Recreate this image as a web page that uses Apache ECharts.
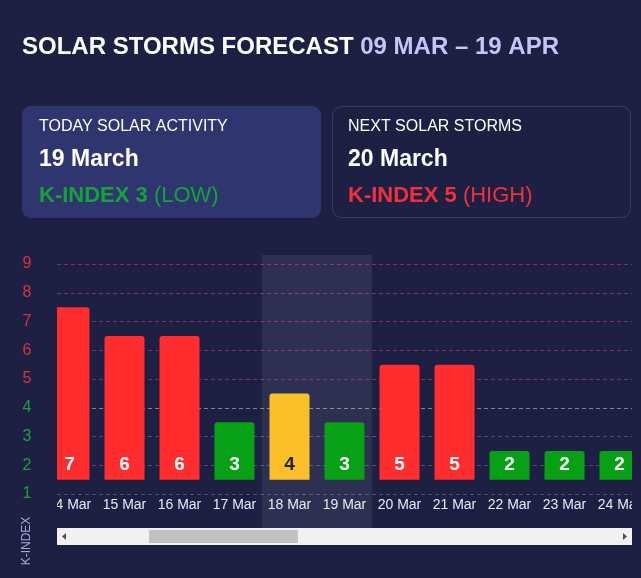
<!DOCTYPE html>
<html>
<head>
<meta charset="utf-8">
<script src="https://cdn.jsdelivr.net/npm/echarts@6/dist/echarts.min.js"></script>
<style>
  html, body { margin: 0; padding: 0; background: #1d2043; overflow: hidden; }
  #wrap { position: relative; width: 641px; height: 578px; }
  #chart { position: absolute; left: 0; top: 0; width: 641px; height: 578px; }
  #scroller { position: absolute; overflow: hidden; }
  #content { position: absolute; left: 0; top: 0; }
</style>
</head>
<body>
<div id="wrap">
  <div id="chart"></div>
  <div id="scroller"><div id="content"></div></div>
</div>
<script>
// ---- data ----
const days = ['09 Mar','10 Mar','11 Mar','12 Mar','13 Mar','14 Mar','15 Mar','16 Mar','17 Mar','18 Mar','19 Mar','20 Mar','21 Mar','22 Mar','23 Mar','24 Mar','25 Mar','26 Mar','27 Mar','28 Mar','29 Mar','30 Mar','31 Mar','01 Apr','02 Apr','03 Apr','04 Apr','05 Apr','06 Apr','07 Apr','08 Apr','09 Apr','10 Apr','11 Apr','12 Apr','13 Apr','14 Apr','15 Apr'];
const dayLabels = ['9 Mar','10 Mar','11 Mar','12 Mar','13 Mar','14 Mar','15 Mar','16 Mar','17 Mar','18 Mar','19 Mar','20 Mar','21 Mar','22 Mar','23 Mar','24 Mar','25 Mar','26 Mar','27 Mar','28 Mar','29 Mar','30 Mar','31 Mar','1 Apr','2 Apr','3 Apr','4 Apr','5 Apr','6 Apr','7 Apr','8 Apr','9 Apr','10 Apr','11 Apr','12 Apr','13 Apr','14 Apr','15 Apr'];
const kIndex = [3,4,2,3,5,7,6,6,3,4,3,5,5,2,2,2,3,3,4,2,2,3,5,4,3,2,2,3,3,4,2,2,3,2,2,3,2,2];
const highlightDays = ['18 Mar','19 Mar'];
const yTicks = [1,2,3,4,5,6,7,8,9];
const titleMain = 'SOLAR STORMS FORECAST';
const titleRange = '09 MAR – 19 APR';
const todayCard = { head: 'TODAY SOLAR ACTIVITY', date: '19 March', idx: 'K-INDEX 3', level: '(LOW)' };
const nextCard = { head: 'NEXT SOLAR STORMS', date: '20 March', idx: 'K-INDEX 5', level: '(HIGH)' };

// ---- styling / layout ----
const BG = '#1d2043';
const RED = '#ff2d2d', YEL = '#fbbf2a', GRN = '#08a014';
const FONT = '"Liberation Sans", Arial, Helvetica, sans-serif';
function barColor(v) { return v >= 5 ? RED : (v === 4 ? YEL : GRN); }
function tickColor(v) { return v >= 5 ? '#d8323f' : (v === 4 ? '#f2b531' : '#17a33a'); }

const W = 641, H = 578;
const VIEW_L = 57, VIEW_R = 632;      // visible scroll window
const VIEW_T = 245, VIEW_B = 528;
const BAND = 55;                      // px per day
const SCROLL = 290;                   // scrolled px
const contentW = days.length * BAND;
const AX_TOP = 264, AX_BOTTOM = 494;  // y of value 9 and value 1
const unit = (AX_BOTTOM - AX_TOP) / (yTicks[yTicks.length-1] - yTicks[0]);

// scrollbar geometry
const SB_Y = 528, SB_H = 17, ARROW = 17;
const trackIn = VIEW_R - VIEW_L - 2 * ARROW;
const thumbW = trackIn * (VIEW_R - VIEW_L) / contentW;
const thumbX = VIEW_L + ARROW + trackIn * SCROLL / contentW;

// ---- main (fixed) chart ----
const graphics = [
  { type: 'text', x: 22, y: 47, z: 50,
    style: { text: '{a|' + titleMain + ' }{b|' + titleRange + '}', verticalAlign: 'middle', rich: {
      a: { fill: '#ffffff', fontSize: 24, fontWeight: 'bold', fontFamily: FONT },
      b: { fill: '#c3c6f7', fontSize: 24, fontWeight: 'bold', fontFamily: FONT } } } },
  { type: 'rect', shape: { x: 22, y: 106, width: 299, height: 112, r: 9 }, z: 40, style: { fill: '#2e356f' } },
  { type: 'rect', shape: { x: 332.5, y: 106.5, width: 298, height: 111, r: 9 }, z: 40,
    style: { fill: BG, stroke: '#363b6e', lineWidth: 1 } },
];
function cardText(x, c, col) {
  graphics.push(
    { type: 'text', x: x, y: 127, z: 45, style: { text: c.head, fill: '#ffffff', fontSize: 16, fontFamily: FONT, verticalAlign: 'middle' } },
    { type: 'text', x: x, y: 160, z: 45, style: { text: c.date, fill: '#ffffff', fontSize: 23, fontWeight: 'bold', fontFamily: FONT, verticalAlign: 'middle' } },
    { type: 'text', x: x, y: 196, z: 45, style: { text: '{a|' + c.idx + ' }{b|' + c.level + '}', verticalAlign: 'middle',
      rich: { a: { fill: col, fontSize: 22, fontWeight: 'bold', fontFamily: FONT }, b: { fill: col, fontSize: 22, fontFamily: FONT } } } }
  );
}
cardText(39, todayCard, '#14a33a');
cardText(348, nextCard, '#f0303a');
graphics.push(
  { type: 'text', x: 27, y: 541, rotation: Math.PI / 2, z: 60,
    style: { text: 'K-INDEX', fill: '#a6aad6', fontSize: 12, fontFamily: FONT, align: 'center', verticalAlign: 'middle' } },
  { type: 'rect', shape: { x: VIEW_L, y: SB_Y, width: VIEW_R - VIEW_L, height: SB_H }, z: 30, style: { fill: '#f1f1f1' } },
  { type: 'rect', shape: { x: thumbX, y: SB_Y + 2, width: thumbW, height: SB_H - 4 }, z: 31, style: { fill: '#c1c1c1' } },
  { type: 'polygon', shape: { points: [[62, SB_Y + 8.5], [66, SB_Y + 5], [66, SB_Y + 12]] }, z: 31, style: { fill: '#505050' } },
  { type: 'polygon', shape: { points: [[627, SB_Y + 8.5], [623, SB_Y + 5], [623, SB_Y + 12]] }, z: 31, style: { fill: '#505050' } }
);

const gridLineColors = yTicks.map(v => v >= 5 ? '#7c2f6e' : (v === 4 ? '#85837c' : '#4b5080'));

const mainChart = echarts.init(document.getElementById('chart'));
mainChart.setOption({
  backgroundColor: BG,
  animation: false,
  textStyle: { fontFamily: FONT },
  grid: { left: VIEW_L, right: W - VIEW_R, top: AX_TOP, bottom: H - AX_BOTTOM },
  xAxis: { type: 'value', show: false },
  yAxis: { type: 'value', min: yTicks[0], max: yTicks[yTicks.length - 1], interval: 1,
    axisLine: { show: false }, axisTick: { show: false },
    axisLabel: { margin: 30, align: 'center', fontSize: 16, fontFamily: FONT, color: v => tickColor(v) },
    splitLine: { show: true, lineStyle: { type: [4, 3], width: 1, color: gridLineColors } } },
  series: [],
  graphic: graphics
});

// ---- scrolled content chart ----
const scroller = document.getElementById('scroller');
scroller.style.left = VIEW_L + 'px';
scroller.style.top = VIEW_T + 'px';
scroller.style.width = (VIEW_R - VIEW_L) + 'px';
scroller.style.height = (VIEW_B - VIEW_T) + 'px';
const content = document.getElementById('content');
content.style.width = contentW + 'px';
content.style.height = (VIEW_B - VIEW_T) + 'px';
content.style.left = (-SCROLL) + 'px';
const CH = VIEW_B - VIEW_T;
const barBase = AX_BOTTOM - unit / 2 - VIEW_T;   // bar baseline inside content

const contentChart = echarts.init(content);
contentChart.setOption({
  animation: false,
  textStyle: { fontFamily: FONT },
  grid: [
    { left: 0, right: 0, top: AX_TOP - VIEW_T, bottom: CH - barBase },
    { left: 0, right: 0, top: 10, bottom: 0 }
  ],
  xAxis: [
    { gridIndex: 0, type: 'category', data: days,
      axisLine: { show: false }, axisTick: { show: false },
      axisLabel: { interval: 0, margin: 19, color: '#e8e9f3', fontSize: 14, fontFamily: FONT,
        formatter: (v, i) => dayLabels[i] } },
    { gridIndex: 1, type: 'category', data: days, show: false }
  ],
  yAxis: [
    { gridIndex: 0, type: 'value', min: yTicks[0], max: yTicks[yTicks.length - 1] - 0.5, show: false },
    { gridIndex: 1, type: 'value', min: 0, max: 1, show: false }
  ],
  series: [
    { type: 'bar', xAxisIndex: 1, yAxisIndex: 1, z: 1, silent: true, barWidth: '100%',
      data: days.map(d => highlightDays.includes(d) ? 1 : null),
      itemStyle: { color: 'rgba(255,255,255,0.075)' } },
    { type: 'bar', xAxisIndex: 0, yAxisIndex: 0, z: 5, barWidth: 40, clip: true,
      data: kIndex.map(v => ({ value: v, itemStyle: { color: barColor(v) },
        label: { color: v === 4 ? '#23243a' : '#ffffff' } })),
      itemStyle: { borderRadius: [3, 3, 0, 0] },
      label: { show: true, position: 'insideBottom', distance: 5, fontSize: 19, fontWeight: 'bold', fontFamily: FONT } }
  ]
});
</script>
</body>
</html>
